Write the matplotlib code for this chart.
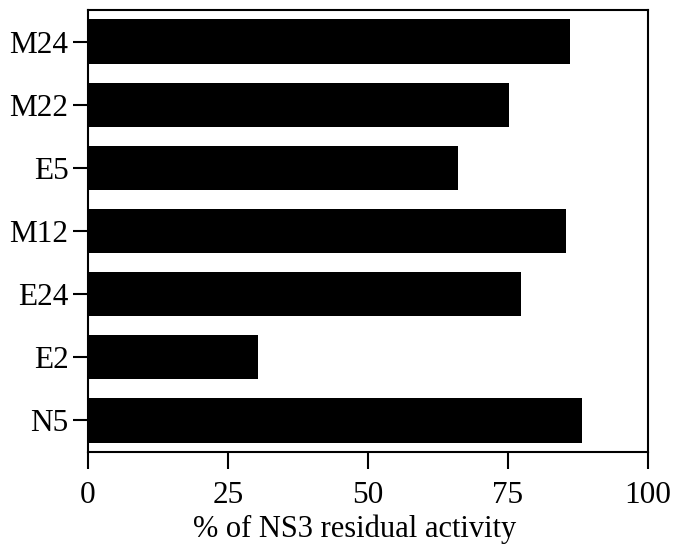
import matplotlib
matplotlib.use("Agg")
import matplotlib.pyplot as plt

plt.rcParams['font.family'] = ['Liberation Serif', 'DejaVu Serif']

# bottom to top
samples = ["N5", "E2", "E24", "M12", "E5", "M22", "M24"]
activity = [88.2, 30.3, 77.3, 85.4, 66.1, 75.2, 86.1]
xticks = [0, 25, 50, 75, 100]

fig = plt.figure(figsize=(6.76, 5.47), dpi=100)
ax = fig.add_axes([88 / 676, 1 - 452 / 547, 560 / 676, 442 / 547])

ax.barh(range(len(samples)), activity, height=0.70, color="black")

ax.set_xlim(0, 100)
ax.set_ylim(-0.5, len(samples) - 0.5)
ax.set_xticks(xticks)
ax.set_yticks(range(len(samples)))
ax.set_yticklabels(samples)

for s in ax.spines.values():
    s.set_linewidth(1.5)

ax.tick_params(axis='both', labelsize=22.5, width=1.5, direction='out')
ax.tick_params(axis='x', length=12, pad=9)
ax.tick_params(axis='y', length=11, pad=3)

ax.set_xlabel("% of NS3 residual activity", fontsize=22, labelpad=3)
ax.xaxis.label.set_x(0.476)

fig.savefig("out.png", dpi=100)
